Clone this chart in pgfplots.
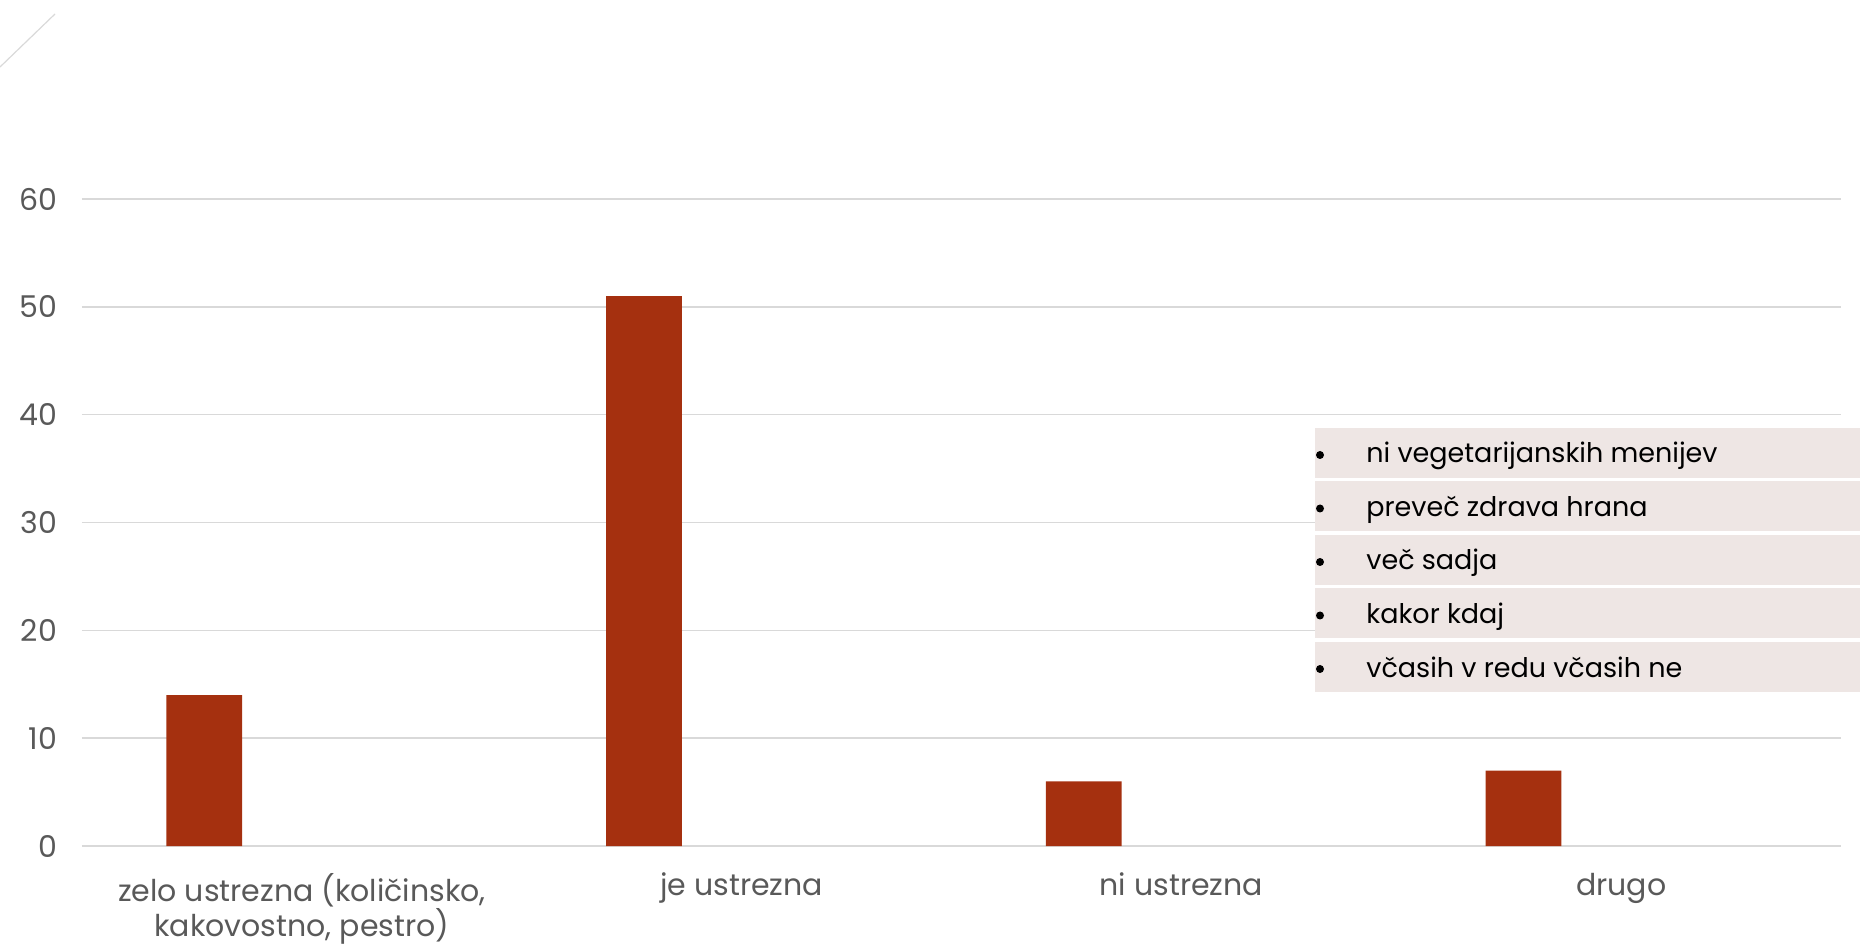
\documentclass[border=0pt]{standalone}
\usepackage{pgfplots}
\pgfplotsset{compat=1.18}
\usepackage{fontspec}
\setmainfont{Poppins}
\definecolor{barred}{RGB}{165,48,15}
\definecolor{ticklab}{RGB}{89,89,89}
\definecolor{gridc}{RGB}{217,217,217}
\definecolor{rowfill}{RGB}{238,230,228}
\begin{document}
\begin{tikzpicture}
\path[use as bounding box] (0pt,0pt) rectangle (930pt,472pt);
\draw[gridc, line width=0.6pt] (0pt,438.5pt) -- (27.5pt,465pt);
\begin{axis}[
  at={(41pt,49pt)}, anchor=south west,
  scale only axis, width=879.5pt, height=323.5pt,
  xmin=-0.5, xmax=3.5, ymin=0, ymax=60,
  xtick={0,1,2,3},
  xticklabels={{zelo ustrezna (količinsko,\\kakovostno, pestro)}, je ustrezna, ni ustrezna, drugo},
  ytick={0,10,20,30,40,50,60},
  axis line style={draw=none},
  major tick length=0pt,
  ymajorgrids, major grid style={gridc, line width=0.75pt},
  /pgf/number format/assume math mode=true,
  yticklabel style={font=\fontsize{15}{17}\selectfont, text=ticklab, xshift=-9pt},
  xticklabel style={font=\fontsize{15}{17.5}\selectfont, text=ticklab, align=center, yshift=-10pt},
  ybar, bar width=37.95pt, bar shift=-48.8pt,
  clip=false,
]
\addplot[fill=barred, draw=none] coordinates {(0,14) (1,51) (2,6) (3,7)};
\end{axis}
\foreach \r/\t in {0/{ni vegetarijanskih menijev},1/{preveč zdrava hrana},2/{več sadja},3/{kakor kdaj},4/{včasih v redu včasih ne}}{
  \pgfmathsetmacro{\ytop}{(944-428-53.5*\r)/2}
  \fill[rowfill] (657.5pt,\ytop pt) rectangle (930pt,\ytop pt-25pt);
  \fill[black] (660pt,\ytop pt-13.5pt) circle (2pt);
  \node[anchor=base west, inner sep=0pt, font=\fontsize{13.5}{16}\selectfont] at (683pt,\ytop pt-17.5pt) {\t};
}
\end{tikzpicture}
\end{document}
